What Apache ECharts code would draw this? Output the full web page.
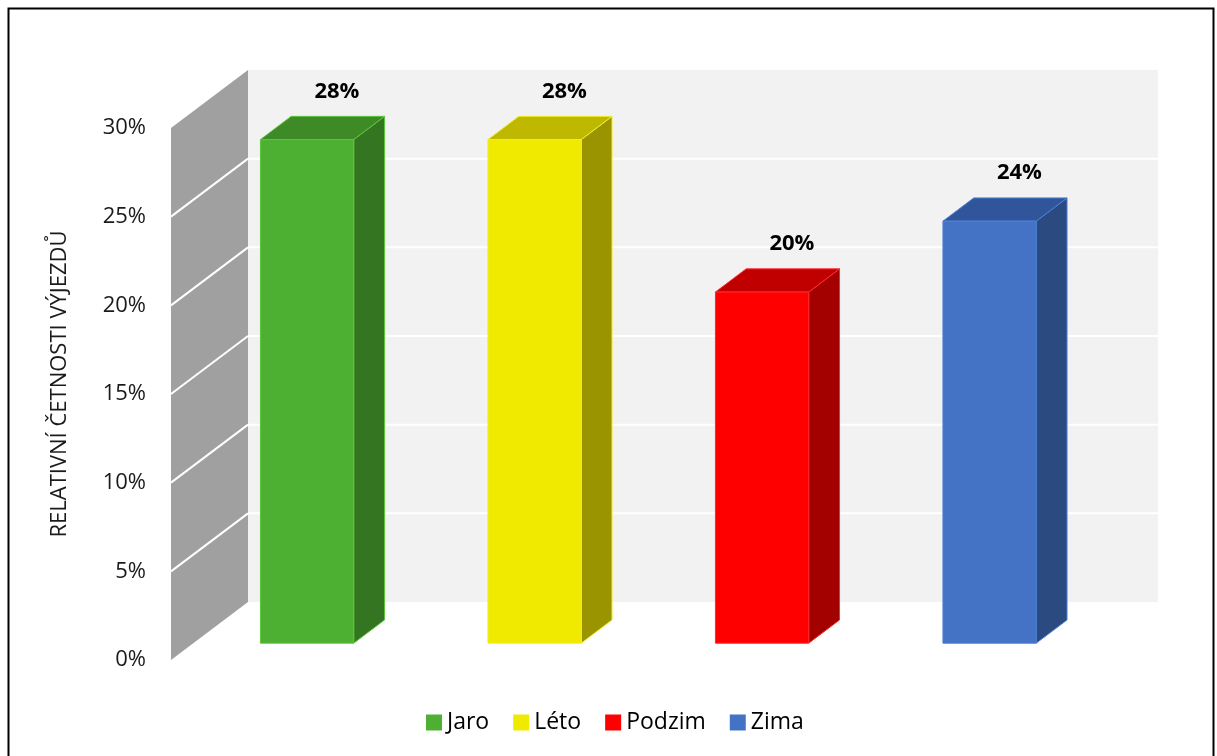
<!DOCTYPE html>
<html lang="cs">
<head>
<meta charset="UTF-8">
<title>Relativní četnosti výjezdů</title>
<script src="https://cdn.jsdelivr.net/npm/echarts@6/dist/echarts.min.js"></script>
<style>
  html, body { margin: 0; padding: 0; background: #fff; }
  #main { width: 1217px; height: 756px; }
</style>
</head>
<body>
<div id="main"></div>
<script>
// data
const seasons = ['Jaro', 'Léto', 'Podzim', 'Zima'];
const shares = [28.4, 28.4, 19.8, 23.8];
const yTicks = [0, 5, 10, 15, 20, 25, 30];
const axisTitle = 'RELATIVNÍ ČETNOSTI VÝJEZDŮ';

// look of the 3d boxes
const faceColors = [
  { front: '#4db032', top: '#3e8a26', side: '#347521', edge: '#5cc63c' },
  { front: '#f0e900', top: '#bfb800', side: '#9a9400', edge: '#f2ec2a' },
  { front: '#ff0000', top: '#c00000', side: '#a30000', edge: '#ff2a2a' },
  { front: '#4472c4', top: '#30559a', side: '#2a4a80', edge: '#4a7fd6' }
];
const DX = 77, DY = -58;      // full depth of the floor
const FRONT = 0.29, DEPTH = 0.4, BAR_RATIO = 0.41;
const FONT = '"Open Sans", "Noto Sans", sans-serif';

let myChart = echarts.init(document.getElementById('main'));

function renderWalls(params, api) {
  const cs = params.coordSys;
  const L = cs.x, R = cs.x + cs.width;
  const y0 = api.coord([0, yTicks[0]])[1];
  const yTop = api.coord([0, yTicks[yTicks.length - 1]])[1];
  const children = [
    { type: 'rect', shape: { x: L + DX, y: yTop + DY, width: R - L, height: y0 - yTop }, style: { fill: '#f2f2f2' } },
    { type: 'polygon', shape: { points: [[L, y0], [L + DX, y0 + DY], [L + DX, yTop + DY], [L, yTop]] }, style: { fill: '#a0a0a0' } }
  ];
  yTicks.slice(1, -1).forEach(t => {
    const y = api.coord([0, t])[1];
    children.push({ type: 'line', shape: { x1: L + DX, y1: y + DY, x2: R + DX, y2: y + DY }, style: { stroke: '#fff', lineWidth: 2 } });
    children.push({ type: 'line', shape: { x1: L, y1: y, x2: L + DX, y2: y + DY }, style: { stroke: '#fff', lineWidth: 2 } });
  });
  return { type: 'group', children: children };
}

function renderBar(params, api) {
  const i = api.value(0);
  const v = api.value(1);
  const base = api.coord([i, 0]);
  const top = api.coord([i, v]);
  const bw = api.size([1, 0])[0] * BAR_RATIO;
  const bx = DEPTH * DX, by = DEPTH * DY;
  const x0 = base[0] - bw / 2 + FRONT * DX, x1 = x0 + bw;
  const yb = base[1] + FRONT * DY, yt = top[1] + FRONT * DY;
  const c = faceColors[i];
  return {
    type: 'group',
    children: [
      { type: 'polygon', shape: { points: [[x1, yt], [x1 + bx, yt + by], [x1 + bx, yb + by], [x1, yb]] },
        style: { fill: c.side, stroke: c.edge, lineWidth: 1 } },
      { type: 'polygon', shape: { points: [[x0, yt], [x1, yt], [x1 + bx, yt + by], [x0 + bx, yt + by]] },
        style: { fill: c.top, stroke: c.edge, lineWidth: 1 } },
      { type: 'rect', shape: { x: x0, y: yt, width: bw, height: yb - yt },
        style: { fill: c.front, stroke: c.edge, lineWidth: 1 } },
      { type: 'text', x: x0 + bw / 2 + bx - 1, y: yt + by - 25,
        style: { text: Math.round(v) + '%', font: 'bold 22px ' + FONT, fill: '#000',
                 align: 'center', verticalAlign: 'middle', textAlign: 'center', textVerticalAlign: 'middle' } }
    ]
  };
}

let series = [{
  name: 'walls',
  type: 'custom',
  silent: true,
  z: 1,
  renderItem: renderWalls,
  data: [[0, 0]]
}];
seasons.forEach((s, i) => {
  series.push({
    name: s,
    type: 'custom',
    z: 2,
    renderItem: renderBar,
    itemStyle: { color: faceColors[i].front },
    encode: { x: 0, y: 1 },
    data: [[i, shares[i]]]
  });
});

let options = {
  animation: false,
  backgroundColor: '#fff',
  grid: { left: 171, right: 136, top: 128, bottom: 96 },
  legend: {
    data: seasons,
    left: 421,
    top: 706,
    icon: 'rect',
    itemWidth: 16,
    itemHeight: 16,
    itemGap: 24,
    textStyle: { fontSize: 23, color: '#000', fontFamily: FONT }
  },
  xAxis: {
    type: 'category',
    data: seasons,
    show: false
  },
  yAxis: {
    type: 'value',
    min: yTicks[0],
    max: yTicks[yTicks.length - 1],
    interval: 5,
    axisLine: { show: false },
    axisTick: { show: false },
    splitLine: { show: false },
    axisLabel: { formatter: '{value}%', margin: 25, fontSize: 22, color: '#1a1a1a', fontFamily: FONT }
  },
  graphic: [
    { type: 'rect', left: 6, top: 6, shape: { width: 1205, height: 770 },
      style: { fill: 'none', stroke: '#000', lineWidth: 2 }, silent: true },
    { type: 'text', x: 60, y: 384, rotation: Math.PI / 2,
      style: { text: axisTitle, font: '22px ' + FONT, fill: '#1a1a1a',
               align: 'center', verticalAlign: 'middle', textAlign: 'center', textVerticalAlign: 'middle' } }
  ],
  series: series
};

myChart.setOption(options);
</script>
</body>
</html>
